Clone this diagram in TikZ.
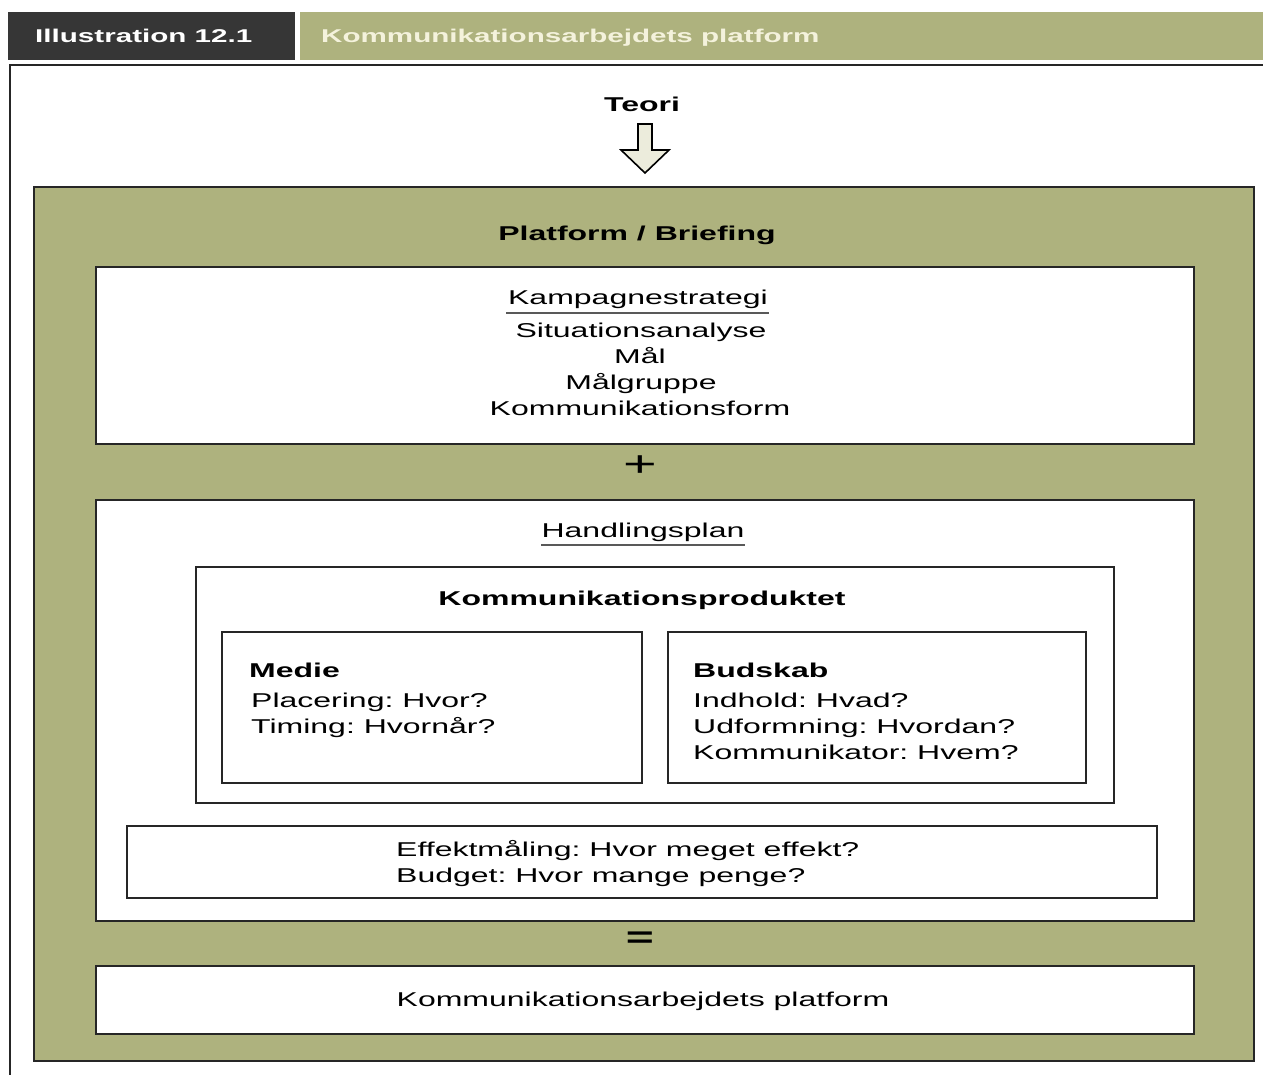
\documentclass[tikz,border=0pt]{standalone}
\usepackage{fontspec}
\setmainfont{Liberation Sans}[FakeStretch=1.6]
\definecolor{olive}{HTML}{AEB27E}
\definecolor{darkhead}{HTML}{363636}
\definecolor{cream}{HTML}{F4F2DC}
\definecolor{arrowfill}{HTML}{ECECDC}
\tikzset{
  box/.style={draw=black!85, line width=1.6pt, fill=white},
  txt/.style={inner sep=0pt, font=\frenchspacing\fontsize{20}{26}\selectfont},
  btxt/.style={inner sep=0pt, font=\frenchspacing\fontsize{20}{26}\selectfont\bfseries},
  htxt/.style={inner sep=0pt, font=\frenchspacing\fontsize{18.5}{24}\selectfont\bfseries},
  ul/.style={draw=black!65, line width=2pt},
}
\begin{document}
\begin{tikzpicture}[x=1pt,y=-1pt]
\useasboundingbox (0,0) rectangle (1263,1075);
\fill[white] (0,0) rectangle (1263,1075);
% header
\fill[darkhead] (8,12) rectangle (295,60);
\fill[olive] (300,12) rectangle (1263,60);
\node[htxt, anchor=base west, text=white] (ill) at (35,43) {Illustration 12.1};
\node[htxt, anchor=base west, text=cream] (title) at (321,43) {Kommunikationsarbejdets platform};
% outer frame
\draw[black!85, line width=1.6pt] (10,1075) -- (10,65) -- (1263,65);
% Teori
\node[btxt, anchor=base] (teori) at (642,112) {Teori};
\draw[black, line width=1.6pt, fill=arrowfill, line join=miter]
  (638,124) -- (652,124) -- (652,150) -- (669,150) -- (645,173) -- (621,150) -- (638,150) -- cycle;
% big olive box
\node[box, fill=olive, minimum width=1220pt, minimum height=874pt, anchor=north west] (platform) at (33,186) {};
\node[btxt, anchor=base] (pb) at (637,241) {Platform / Briefing};
% Kampagnestrategi
\node[box, minimum width=1098pt, minimum height=177pt, anchor=north west] (kamp) at (95,266) {};
\node[txt, anchor=base] (ks) at (638,305) {Kampagnestrategi};
\draw[ul] (506,313) -- (769,313);
\node[txt, anchor=base] (k1) at (641,337) {Situationsanalyse};
\node[txt, anchor=base] (k2) at (640,363) {Mål};
\node[txt, anchor=base] (k3) at (641,389) {Målgruppe};
\node[txt, anchor=base] (k4) at (640,415) {Kommunikationsform};
% plus
\node[inner sep=0pt, font=\fontsize{36}{36}\selectfont] (plus) at (640,466) {+};
% Handlingsplan
\node[box, minimum width=1098pt, minimum height=421pt, anchor=north west] (hand) at (95,499) {};
\node[txt, anchor=base] (hs) at (643,537) {Handlingsplan};
\draw[ul] (541,545) -- (745,545);
% Kommunikationsproduktet
\node[box, minimum width=918pt, minimum height=236pt, anchor=north west] (prod) at (195,566) {};
\node[btxt, anchor=base] (ps) at (642,605) {Kommunikationsproduktet};
% Medie
\node[box, minimum width=420pt, minimum height=151pt, anchor=north west] (medie) at (221,631) {};
\node[btxt, anchor=base west] (m0) at (249,677) {Medie};
\node[txt, anchor=base west] (m1) at (251,707) {Placering: Hvor?};
\node[txt, anchor=base west] (m2) at (251,733) {Timing: Hvornår?};
% Budskab
\node[box, minimum width=418pt, minimum height=151pt, anchor=north west] (budskab) at (667,631) {};
\node[btxt, anchor=base west] (b0) at (693,677) {Budskab};
\node[txt, anchor=base west] (b1) at (693,707) {Indhold: Hvad?};
\node[txt, anchor=base west] (b2) at (693,733) {Udformning: Hvordan?};
\node[txt, anchor=base west] (b3) at (693,759) {Kommunikator: Hvem?};
% Effekt
\node[box, minimum width=1030pt, minimum height=72pt, anchor=north west] (effekt) at (126,825) {};
\node[txt, anchor=base west] (e1) at (396,856) {Effektmåling: Hvor meget effekt?};
\node[txt, anchor=base west] (e2) at (396,882) {Budget: Hvor mange penge?};
% equals
\node[inner sep=0pt, font=\fontsize{30}{30}\selectfont\bfseries] (eq) at (640,940) {=};
% result
\node[box, minimum width=1098pt, minimum height=68pt, anchor=north west] (result) at (95,965) {};
\node[txt, anchor=base] (rs) at (643,1006) {Kommunikationsarbejdets platform};
\end{tikzpicture}
\end{document}
